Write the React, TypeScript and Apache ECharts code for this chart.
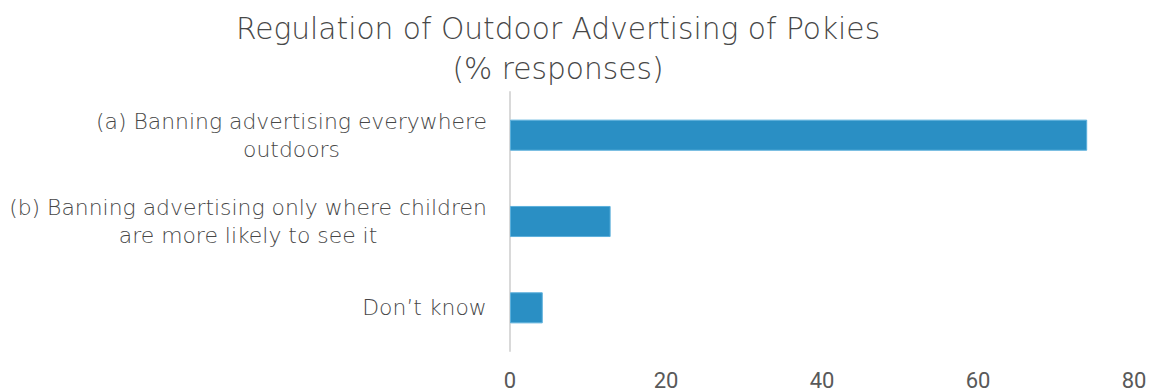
import React, { useEffect, useRef } from "react";
import * as echarts from "echarts";

const categories = [
  "(a) Banning advertising everywhere\noutdoors",
  "(b) Banning advertising only where children\nare more likely to see it",
  "Don\u2019t know",
];
const values = [74.0, 12.9, 4.2];
const xTicks = { min: 0, max: 80, interval: 20 };
const titleLines = ["Regulation of Outdoor Advertising of Pokies", "(% responses)"];

const FONT = "'DejaVu Sans', sans-serif";
const LABEL_SIZE = 21.9;
const LABEL_WEIGHT = 200;
const TEXT_COLOR = "#474747";

function measure(text: string): number {
  const c = document.createElement("canvas").getContext("2d")!;
  c.font = `${LABEL_WEIGHT} ${LABEL_SIZE}px 'DejaVu Sans', sans-serif`;
  return c.measureText(text).width;
}

export default function App() {
  const ref = useRef<HTMLDivElement>(null);
  useEffect(() => {
    const chart = echarts.init(ref.current!, undefined, { renderer: "svg" });
    const rich: Record<string, any> = {};
    categories.forEach((cat, i) => {
      const w = Math.ceil(Math.max(...cat.split("\n").map(measure))) + 2;
      rich["c" + i] = {
        width: w,
        align: "center",
        fontFamily: FONT,
        fontSize: LABEL_SIZE,
        fontWeight: LABEL_WEIGHT,
        color: TEXT_COLOR,
        lineHeight: 28,
      };
    });
    chart.setOption({
      animation: false,
      title: {
        text: titleLines.join("\n"),
        left: 553,
        top: 3,
        textAlign: "center",
        textStyle: {
          fontFamily: FONT,
          fontSize: 29.7,
          fontWeight: 200,
          color: TEXT_COLOR,
          lineHeight: 40,
        },
      },
      grid: { left: 510, right: 21, top: 92, bottom: 37, containLabel: false },
      xAxis: {
        type: "value",
        min: xTicks.min,
        max: xTicks.max,
        interval: xTicks.interval,
        splitLine: { show: false },
        axisLine: { show: false },
        axisTick: { show: false },
        axisLabel: {
          margin: 18,
          fontFamily: "'Liberation Sans Narrow', 'Roboto', sans-serif",
          fontSize: 22,
          color: "#595959",
        },
      },
      yAxis: {
        type: "category",
        inverse: true,
        data: categories,
        axisLine: { show: true, lineStyle: { color: "#d9d9d9", width: 2 } },
        axisTick: { show: false },
        axisLabel: {
          margin: 22,
          align: "right",
          formatter: (value: string, idx: number) =>
            value
              .split("\n")
              .map((l) => `{c${idx}|${l}}`)
              .join("\n"),
          rich,
        },
      },
      series: [
        {
          type: "bar",
          data: values,
          barWidth: "36%",
          itemStyle: {
            color: "#2a8fc4",
            borderColor: "#5cb0dc",
            borderWidth: 1,
          },
        },
      ],
    });
    return () => chart.dispose();
  }, []);
  return <div ref={ref} style={{ width: 1155, height: 391, position: "absolute", left: 0, top: 0 }} />;
}
